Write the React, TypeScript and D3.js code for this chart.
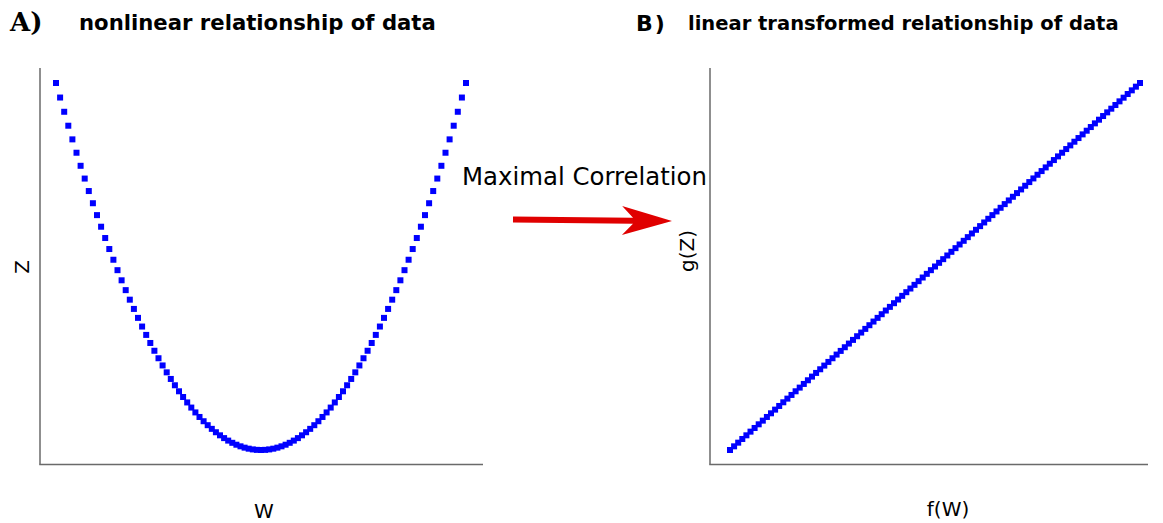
import React from "react";
import * as d3 from "d3";

// Panel A: sampled W and its quadratic response Z
const W = [
  -1.0, -0.98, -0.96, -0.94, -0.92, -0.9, -0.88, -0.86, -0.84, -0.82, -0.8, -0.78, -0.76, -0.74, -0.72, -0.7,
  -0.68, -0.66, -0.64, -0.62, -0.6, -0.58, -0.56, -0.54, -0.52, -0.5, -0.48, -0.46, -0.44, -0.42, -0.4, -0.38,
  -0.36, -0.34, -0.32, -0.3, -0.28, -0.26, -0.24, -0.22, -0.2, -0.18, -0.16, -0.14, -0.12, -0.1, -0.08, -0.06,
  -0.04, -0.02, 0.0, 0.02, 0.04, 0.06, 0.08, 0.1, 0.12, 0.14, 0.16, 0.18, 0.2, 0.22, 0.24, 0.26, 0.28, 0.3,
  0.32, 0.34, 0.36, 0.38, 0.4, 0.42, 0.44, 0.46, 0.48, 0.5, 0.52, 0.54, 0.56, 0.58, 0.6, 0.62, 0.64, 0.66,
  0.68, 0.7, 0.72, 0.74, 0.76, 0.78, 0.8, 0.82, 0.84, 0.86, 0.88, 0.9, 0.92, 0.94, 0.96, 0.98, 1.0,
];
const Z = [
  1.0, 0.9604, 0.9216, 0.8836, 0.8464, 0.81, 0.7744, 0.7396, 0.7056, 0.6724, 0.64, 0.6084, 0.5776, 0.5476,
  0.5184, 0.49, 0.4624, 0.4356, 0.4096, 0.3844, 0.36, 0.3364, 0.3136, 0.2916, 0.2704, 0.25, 0.2304, 0.2116,
  0.1936, 0.1764, 0.16, 0.1444, 0.1296, 0.1156, 0.1024, 0.09, 0.0784, 0.0676, 0.0576, 0.0484, 0.04, 0.0324,
  0.0256, 0.0196, 0.0144, 0.01, 0.0064, 0.0036, 0.0016, 0.0004, 0.0, 0.0004, 0.0016, 0.0036, 0.0064, 0.01,
  0.0144, 0.0196, 0.0256, 0.0324, 0.04, 0.0484, 0.0576, 0.0676, 0.0784, 0.09, 0.1024, 0.1156, 0.1296, 0.1444,
  0.16, 0.1764, 0.1936, 0.2116, 0.2304, 0.25, 0.2704, 0.2916, 0.3136, 0.3364, 0.36, 0.3844, 0.4096, 0.4356,
  0.4624, 0.49, 0.5184, 0.5476, 0.5776, 0.6084, 0.64, 0.6724, 0.7056, 0.7396, 0.7744, 0.81, 0.8464, 0.8836,
  0.9216, 0.9604, 1.0,
];

// Panel B: transformed variables f(W) and g(Z)
const fW = [
  0.0, 0.01, 0.02, 0.03, 0.04, 0.05, 0.06, 0.07, 0.08, 0.09, 0.1, 0.11, 0.12, 0.13, 0.14, 0.15, 0.16, 0.17,
  0.18, 0.19, 0.2, 0.21, 0.22, 0.23, 0.24, 0.25, 0.26, 0.27, 0.28, 0.29, 0.3, 0.31, 0.32, 0.33, 0.34, 0.35,
  0.36, 0.37, 0.38, 0.39, 0.4, 0.41, 0.42, 0.43, 0.44, 0.45, 0.46, 0.47, 0.48, 0.49, 0.5, 0.51, 0.52, 0.53,
  0.54, 0.55, 0.56, 0.57, 0.58, 0.59, 0.6, 0.61, 0.62, 0.63, 0.64, 0.65, 0.66, 0.67, 0.68, 0.69, 0.7, 0.71,
  0.72, 0.73, 0.74, 0.75, 0.76, 0.77, 0.78, 0.79, 0.8, 0.81, 0.82, 0.83, 0.84, 0.85, 0.86, 0.87, 0.88, 0.89,
  0.9, 0.91, 0.92, 0.93, 0.94, 0.95, 0.96, 0.97, 0.98, 0.99, 1.0,
];
const gZ = [
  0.0, 0.01, 0.02, 0.03, 0.04, 0.05, 0.06, 0.07, 0.08, 0.09, 0.1, 0.11, 0.12, 0.13, 0.14, 0.15, 0.16, 0.17,
  0.18, 0.19, 0.2, 0.21, 0.22, 0.23, 0.24, 0.25, 0.26, 0.27, 0.28, 0.29, 0.3, 0.31, 0.32, 0.33, 0.34, 0.35,
  0.36, 0.37, 0.38, 0.39, 0.4, 0.41, 0.42, 0.43, 0.44, 0.45, 0.46, 0.47, 0.48, 0.49, 0.5, 0.51, 0.52, 0.53,
  0.54, 0.55, 0.56, 0.57, 0.58, 0.59, 0.6, 0.61, 0.62, 0.63, 0.64, 0.65, 0.66, 0.67, 0.68, 0.69, 0.7, 0.71,
  0.72, 0.73, 0.74, 0.75, 0.76, 0.77, 0.78, 0.79, 0.8, 0.81, 0.82, 0.83, 0.84, 0.85, 0.86, 0.87, 0.88, 0.89,
  0.9, 0.91, 0.92, 0.93, 0.94, 0.95, 0.96, 0.97, 0.98, 0.99, 1.0,
];

const WIDTH = 1163;
const HEIGHT = 523;
const MARK = 6;
const BLUE = "#0000ff";
const AXIS = "#6a6a6a";
const SANS = "'DejaVu Sans', sans-serif";

// Scales for both panels
const xA = d3.scaleLinear().domain([-1, 1]).range([56, 466]);
const yA = d3.scaleLinear().domain([0, 1]).range([450, 83]);
const xB = d3.scaleLinear().domain([0, 1]).range([730, 1140]);
const yB = d3.scaleLinear().domain([0, 1]).range([450, 83]);

// Red block arrow between panels
function arrowPath(x0: number, y0: number, x1: number, y1: number) {
  const len = Math.hypot(x1 - x0, y1 - y0);
  const ang = Math.atan2(y1 - y0, x1 - x0);
  const shaft = 3;
  const headLen = 50;
  const headHalf = 14.5;
  const notch = 11;
  const local: [number, number][] = [
    [0, -shaft],
    [len - headLen + notch, -shaft],
    [len - headLen, -headHalf],
    [len, 0],
    [len - headLen, headHalf],
    [len - headLen + notch, shaft],
    [0, shaft],
  ];
  const c = Math.cos(ang);
  const s = Math.sin(ang);
  const pts = local.map(([u, v]) => [x0 + u * c - v * s, y0 + u * s + v * c] as [number, number]);
  return d3.line()(pts) + "Z";
}

export default function App() {
  const ptsA = W.map((w, i) => ({ x: xA(w), y: yA(Z[i]) }));
  const ptsB = fW.map((f, i) => ({ x: xB(f), y: yB(gZ[i]) }));

  return (
    <svg
      width={WIDTH}
      height={HEIGHT}
      style={{ position: "absolute", left: 0, top: 0, background: "#fff" }}
    >
      <rect width={WIDTH} height={HEIGHT} fill="#fff" />

      {/* Titles */}
      <text x={10} y={31} fontFamily="'DejaVu Serif', serif" fontWeight="bold" fontSize={26}>
        A)
      </text>
      <text x={79} y={29.5} fontFamily={SANS} fontWeight="bold" fontSize={21.2}>
        nonlinear relationship of data
      </text>
      <text x={636} y={30.5} fontFamily={SANS} fontWeight="bold" fontSize={22} letterSpacing={2}>
        B)
      </text>
      <text x={688} y={29.5} fontFamily={SANS} fontWeight="bold" fontSize={19.5}>
        linear transformed relationship of data
      </text>

      {/* Panel A axes */}
      <line x1={40} y1={68} x2={40} y2={464.5} stroke={AXIS} strokeWidth={1.5} />
      <line x1={39.25} y1={464.5} x2={483} y2={464.5} stroke={AXIS} strokeWidth={1.5} />
      {ptsA.map((p, i) => (
        <rect key={i} x={p.x - MARK / 2} y={p.y - MARK / 2} width={MARK} height={MARK} fill={BLUE} />
      ))}
      <text x={264} y={517.5} textAnchor="middle" fontFamily={SANS} fontSize={20}>
        W
      </text>
      <text transform="translate(28.5,267) rotate(-90)" textAnchor="middle" fontFamily={SANS} fontSize={20}>
        Z
      </text>

      {/* Panel B axes */}
      <line x1={710} y1={68} x2={710} y2={464.5} stroke={AXIS} strokeWidth={1.5} />
      <line x1={709.25} y1={464.5} x2={1148} y2={464.5} stroke={AXIS} strokeWidth={1.5} />
      {ptsB.map((p, i) => (
        <rect key={i} x={p.x - MARK / 2} y={p.y - MARK / 2} width={MARK} height={MARK} fill={BLUE} />
      ))}
      <text x={948} y={516} textAnchor="middle" fontFamily={SANS} fontSize={20}>
        f(W)
      </text>
      <text transform="translate(694,251) rotate(-90)" textAnchor="middle" fontFamily={SANS} fontSize={20}>
        g(Z)
      </text>

      {/* Transformation annotation */}
      <text x={462} y={185} fontFamily={SANS} fontSize={24.4}>
        Maximal Correlation
      </text>
      <path d={arrowPath(513, 219.5, 672, 221)} fill="#e00000" />
    </svg>
  );
}
